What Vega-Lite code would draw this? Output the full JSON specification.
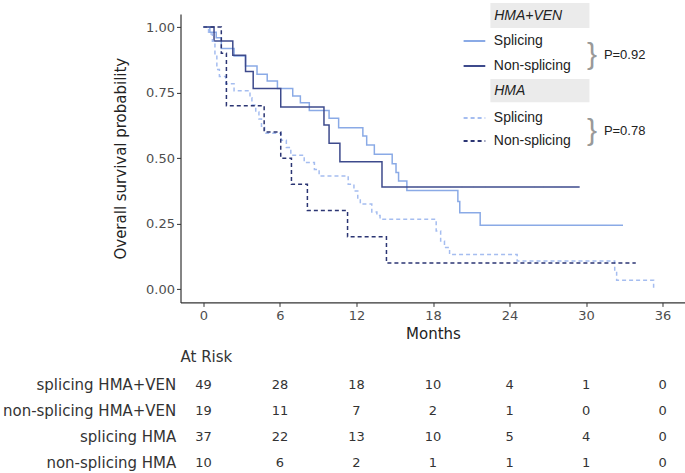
{
  "$schema": "https://vega.github.io/schema/vega-lite/v6.json",
  "autosize": {"type": "pad"},
  "padding": {"left": 1.5, "top": 1.9, "right": 0, "bottom": 0},
  "background": "white",
  "config": {"view": {"stroke": null}, "font": "DejaVu Sans"},
  "bounds": "flush",
  "spacing": 69,
  "datasets": {
    "km": [
      {"series": "Splicing HMA+VEN", "t": 0, "s": 1},
      {"series": "Splicing HMA+VEN", "t": 0.5, "s": 0.98},
      {"series": "Splicing HMA+VEN", "t": 1.0, "s": 0.959},
      {"series": "Splicing HMA+VEN", "t": 1.4, "s": 0.918},
      {"series": "Splicing HMA+VEN", "t": 2.4, "s": 0.889},
      {"series": "Splicing HMA+VEN", "t": 3.3, "s": 0.851},
      {"series": "Splicing HMA+VEN", "t": 4.2, "s": 0.82},
      {"series": "Splicing HMA+VEN", "t": 5.0, "s": 0.794},
      {"series": "Splicing HMA+VEN", "t": 5.8, "s": 0.766},
      {"series": "Splicing HMA+VEN", "t": 7.0, "s": 0.737},
      {"series": "Splicing HMA+VEN", "t": 7.6, "s": 0.711},
      {"series": "Splicing HMA+VEN", "t": 8.3, "s": 0.682},
      {"series": "Splicing HMA+VEN", "t": 9.85, "s": 0.652},
      {"series": "Splicing HMA+VEN", "t": 10.6, "s": 0.616},
      {"series": "Splicing HMA+VEN", "t": 12.5, "s": 0.584},
      {"series": "Splicing HMA+VEN", "t": 12.8, "s": 0.55},
      {"series": "Splicing HMA+VEN", "t": 13.4, "s": 0.515},
      {"series": "Splicing HMA+VEN", "t": 14.8, "s": 0.479},
      {"series": "Splicing HMA+VEN", "t": 15.1, "s": 0.445},
      {"series": "Splicing HMA+VEN", "t": 15.3, "s": 0.413},
      {"series": "Splicing HMA+VEN", "t": 15.95, "s": 0.377},
      {"series": "Splicing HMA+VEN", "t": 19.95, "s": 0.335},
      {"series": "Splicing HMA+VEN", "t": 20.1, "s": 0.292},
      {"series": "Splicing HMA+VEN", "t": 21.7, "s": 0.244},
      {"series": "Splicing HMA+VEN", "t": 32.9, "s": 0.244},
      {"series": "Non-splicing HMA+VEN", "t": 0, "s": 1},
      {"series": "Non-splicing HMA+VEN", "t": 0.83, "s": 0.947},
      {"series": "Non-splicing HMA+VEN", "t": 2.3, "s": 0.892},
      {"series": "Non-splicing HMA+VEN", "t": 3.3, "s": 0.83},
      {"series": "Non-splicing HMA+VEN", "t": 3.9, "s": 0.766},
      {"series": "Non-splicing HMA+VEN", "t": 6.06, "s": 0.695},
      {"series": "Non-splicing HMA+VEN", "t": 9.45, "s": 0.626},
      {"series": "Non-splicing HMA+VEN", "t": 9.85, "s": 0.557},
      {"series": "Non-splicing HMA+VEN", "t": 10.7, "s": 0.486},
      {"series": "Non-splicing HMA+VEN", "t": 14.0, "s": 0.39},
      {"series": "Non-splicing HMA+VEN", "t": 29.5, "s": 0.39},
      {"series": "Splicing HMA", "t": 0, "s": 1},
      {"series": "Splicing HMA", "t": 0.4, "s": 0.973},
      {"series": "Splicing HMA", "t": 0.7, "s": 0.946},
      {"series": "Splicing HMA", "t": 0.9, "s": 0.892},
      {"series": "Splicing HMA", "t": 1.05, "s": 0.838},
      {"series": "Splicing HMA", "t": 1.25, "s": 0.811},
      {"series": "Splicing HMA", "t": 1.75, "s": 0.784},
      {"series": "Splicing HMA", "t": 2.4, "s": 0.757},
      {"series": "Splicing HMA", "t": 3.65, "s": 0.73},
      {"series": "Splicing HMA", "t": 3.8, "s": 0.703},
      {"series": "Splicing HMA", "t": 4.1, "s": 0.676},
      {"series": "Splicing HMA", "t": 4.35, "s": 0.649},
      {"series": "Splicing HMA", "t": 4.55, "s": 0.622},
      {"series": "Splicing HMA", "t": 4.8, "s": 0.595},
      {"series": "Splicing HMA", "t": 6.1, "s": 0.568},
      {"series": "Splicing HMA", "t": 6.5, "s": 0.541},
      {"series": "Splicing HMA", "t": 6.85, "s": 0.511},
      {"series": "Splicing HMA", "t": 7.9, "s": 0.483},
      {"series": "Splicing HMA", "t": 8.7, "s": 0.457},
      {"series": "Splicing HMA", "t": 9.07, "s": 0.432},
      {"series": "Splicing HMA", "t": 11.35, "s": 0.4},
      {"series": "Splicing HMA", "t": 11.8, "s": 0.375},
      {"series": "Splicing HMA", "t": 12.1, "s": 0.345},
      {"series": "Splicing HMA", "t": 12.3, "s": 0.325},
      {"series": "Splicing HMA", "t": 13.2, "s": 0.295},
      {"series": "Splicing HMA", "t": 13.6, "s": 0.281},
      {"series": "Splicing HMA", "t": 13.85, "s": 0.267},
      {"series": "Splicing HMA", "t": 18.25, "s": 0.222},
      {"series": "Splicing HMA", "t": 18.6, "s": 0.184},
      {"series": "Splicing HMA", "t": 18.9, "s": 0.159},
      {"series": "Splicing HMA", "t": 19.3, "s": 0.133},
      {"series": "Splicing HMA", "t": 24.6, "s": 0.108},
      {"series": "Splicing HMA", "t": 32.25, "s": 0.07},
      {"series": "Splicing HMA", "t": 32.4, "s": 0.034},
      {"series": "Splicing HMA", "t": 35.3, "s": 0},
      {"series": "Non-splicing HMA", "t": 0, "s": 1},
      {"series": "Non-splicing HMA", "t": 1.4, "s": 0.9},
      {"series": "Non-splicing HMA", "t": 1.8, "s": 0.7},
      {"series": "Non-splicing HMA", "t": 4.76, "s": 0.6},
      {"series": "Non-splicing HMA", "t": 6.06, "s": 0.5},
      {"series": "Non-splicing HMA", "t": 6.9, "s": 0.4},
      {"series": "Non-splicing HMA", "t": 8.15, "s": 0.3},
      {"series": "Non-splicing HMA", "t": 11.3, "s": 0.2},
      {"series": "Non-splicing HMA", "t": 14.35, "s": 0.1},
      {"series": "Non-splicing HMA", "t": 33.9, "s": 0.1}
    ],
    "risk": [
      {"group": "splicing HMA+VEN", "time": 0, "n": 49},
      {"group": "splicing HMA+VEN", "time": 6, "n": 28},
      {"group": "splicing HMA+VEN", "time": 12, "n": 18},
      {"group": "splicing HMA+VEN", "time": 18, "n": 10},
      {"group": "splicing HMA+VEN", "time": 24, "n": 4},
      {"group": "splicing HMA+VEN", "time": 30, "n": 1},
      {"group": "splicing HMA+VEN", "time": 36, "n": 0},
      {"group": "non-splicing HMA+VEN", "time": 0, "n": 19},
      {"group": "non-splicing HMA+VEN", "time": 6, "n": 11},
      {"group": "non-splicing HMA+VEN", "time": 12, "n": 7},
      {"group": "non-splicing HMA+VEN", "time": 18, "n": 2},
      {"group": "non-splicing HMA+VEN", "time": 24, "n": 1},
      {"group": "non-splicing HMA+VEN", "time": 30, "n": 0},
      {"group": "non-splicing HMA+VEN", "time": 36, "n": 0},
      {"group": "splicing HMA", "time": 0, "n": 37},
      {"group": "splicing HMA", "time": 6, "n": 22},
      {"group": "splicing HMA", "time": 12, "n": 13},
      {"group": "splicing HMA", "time": 18, "n": 10},
      {"group": "splicing HMA", "time": 24, "n": 5},
      {"group": "splicing HMA", "time": 30, "n": 4},
      {"group": "splicing HMA", "time": 36, "n": 0},
      {"group": "non-splicing HMA", "time": 0, "n": 10},
      {"group": "non-splicing HMA", "time": 6, "n": 6},
      {"group": "non-splicing HMA", "time": 12, "n": 2},
      {"group": "non-splicing HMA", "time": 18, "n": 1},
      {"group": "non-splicing HMA", "time": 24, "n": 1},
      {"group": "non-splicing HMA", "time": 30, "n": 1},
      {"group": "non-splicing HMA", "time": 36, "n": 0}
    ]
  },
  "vconcat": [
    {
      "width": 505,
      "height": 288.5,
      "layer": [
        {
          "data": {"name": "km"},
          "mark": {"type": "line", "interpolate": "step-after", "strokeWidth": 1.5},
          "encoding": {
            "x": {
              "field": "t", "type": "quantitative",
              "scale": {"domain": [-1.8, 37.8], "nice": false, "zero": false},
              "axis": {
                "values": [0, 6, 12, 18, 24, 30, 36], "title": "Months", "grid": false,
                "domainColor": "#333333", "domainWidth": 1.2, "tickColor": "#333333", "tickSize": 4,
                "labelFont": "DejaVu Sans", "labelFontSize": 13, "labelColor": "#4d4d4d", "labelPadding": 3,
                "titleFont": "DejaVu Sans", "titleFontSize": 15, "titleFontWeight": "normal", "titleColor": "#222222", "titlePadding": 4
              }
            },
            "y": {
              "field": "s", "type": "quantitative",
              "scale": {"domain": [-0.05, 1.05], "nice": false, "zero": false},
              "axis": {
                "values": [0, 0.25, 0.5, 0.75, 1], "format": ".2f", "title": "Overall survival probability", "grid": false,
                "domainColor": "#333333", "domainWidth": 1.2, "tickColor": "#333333", "tickSize": 4,
                "labelFont": "DejaVu Sans", "labelFontSize": 13, "labelColor": "#4d4d4d", "labelPadding": 2,
                "titleFont": "DejaVu Sans", "titleFontSize": 15, "titleFontWeight": "normal", "titleColor": "#222222", "titlePadding": 17
              }
            },
            "color": {
              "field": "series", "type": "nominal", "legend": null,
              "scale": {
                "domain": ["Splicing HMA+VEN", "Non-splicing HMA+VEN", "Splicing HMA", "Non-splicing HMA"],
                "range": ["#8aaae6", "#3d4a8c", "#a5bdf0", "#2b3573"]
              }
            },
            "strokeDash": {
              "field": "series", "type": "nominal", "legend": null,
              "scale": {
                "domain": ["Splicing HMA+VEN", "Non-splicing HMA+VEN", "Splicing HMA", "Non-splicing HMA"],
                "range": [[1, 0], [1, 0], [4, 3], [4, 3]]
              }
            }
          }
        },
        {
          "data": {"values": [{}]},
          "mark": {"type": "rect", "color": "#ebebeb"},
          "encoding": {"x": {"datum": 22.5}, "x2": {"datum": 30.27}, "y": {"datum": 1.092}, "y2": {"datum": 0.996}}
        },
        {
          "data": {"values": [{}]},
          "mark": {"type": "rect", "color": "#ebebeb"},
          "encoding": {"x": {"datum": 22.5}, "x2": {"datum": 30.27}, "y": {"datum": 0.802}, "y2": {"datum": 0.713}}
        },
        {
          "data": {"values": [{}]},
          "mark": {"type": "text", "align": "left", "baseline": "middle", "font": "Liberation Sans", "fontSize": 14, "fontStyle": "italic", "color": "#222222"},
          "encoding": {"x": {"datum": 22.8}, "y": {"datum": 1.043}, "text": {"value": "HMA+VEN"}}
        },
        {
          "data": {"values": [{}]},
          "mark": {"type": "text", "align": "left", "baseline": "middle", "font": "Liberation Sans", "fontSize": 14, "fontStyle": "italic", "color": "#222222"},
          "encoding": {"x": {"datum": 22.8}, "y": {"datum": 0.756}, "text": {"value": "HMA"}}
        },
        {
          "data": {"values": [{}]},
          "mark": {"type": "rule", "strokeWidth": 2},
          "encoding": {"x": {"datum": 20.4}, "x2": {"datum": 22.1}, "y": {"datum": 0.947}, "color": {"datum": "Splicing HMA+VEN"}, "strokeDash": {"datum": "Splicing HMA+VEN"}}
        },
        {
          "data": {"values": [{}]},
          "mark": {"type": "rule", "strokeWidth": 2},
          "encoding": {"x": {"datum": 20.4}, "x2": {"datum": 22.1}, "y": {"datum": 0.851}, "color": {"datum": "Non-splicing HMA+VEN"}, "strokeDash": {"datum": "Non-splicing HMA+VEN"}}
        },
        {
          "data": {"values": [{}]},
          "mark": {"type": "rule", "strokeWidth": 2},
          "encoding": {"x": {"datum": 20.4}, "x2": {"datum": 22.1}, "y": {"datum": 0.653}, "color": {"datum": "Splicing HMA"}, "strokeDash": {"datum": "Splicing HMA"}}
        },
        {
          "data": {"values": [{}]},
          "mark": {"type": "rule", "strokeWidth": 2},
          "encoding": {"x": {"datum": 20.4}, "x2": {"datum": 22.1}, "y": {"datum": 0.565}, "color": {"datum": "Non-splicing HMA"}, "strokeDash": {"datum": "Non-splicing HMA"}}
        },
        {
          "data": {"values": [{}]},
          "mark": {"type": "text", "align": "left", "baseline": "middle", "font": "Liberation Sans", "fontSize": 14, "color": "#222222"},
          "encoding": {"x": {"datum": 22.77}, "y": {"datum": 0.947}, "text": {"value": "Splicing"}}
        },
        {
          "data": {"values": [{}]},
          "mark": {"type": "text", "align": "left", "baseline": "middle", "font": "Liberation Sans", "fontSize": 14, "color": "#222222"},
          "encoding": {"x": {"datum": 22.77}, "y": {"datum": 0.851}, "text": {"value": "Non-splicing"}}
        },
        {
          "data": {"values": [{}]},
          "mark": {"type": "text", "align": "left", "baseline": "middle", "font": "Liberation Sans", "fontSize": 14, "color": "#222222"},
          "encoding": {"x": {"datum": 22.77}, "y": {"datum": 0.653}, "text": {"value": "Splicing"}}
        },
        {
          "data": {"values": [{}]},
          "mark": {"type": "text", "align": "left", "baseline": "middle", "font": "Liberation Sans", "fontSize": 14, "color": "#222222"},
          "encoding": {"x": {"datum": 22.77}, "y": {"datum": 0.565}, "text": {"value": "Non-splicing"}}
        },
        {
          "data": {"values": [{}]},
          "mark": {"type": "text", "align": "center", "baseline": "middle", "font": "Liberation Sans", "fontSize": 30, "color": "#999999"},
          "encoding": {"x": {"datum": 30.46}, "y": {"datum": 0.895}, "text": {"value": "}"}}
        },
        {
          "data": {"values": [{}]},
          "mark": {"type": "text", "align": "center", "baseline": "middle", "font": "Liberation Sans", "fontSize": 30, "color": "#999999"},
          "encoding": {"x": {"datum": 30.46}, "y": {"datum": 0.605}, "text": {"value": "}"}}
        },
        {
          "data": {"values": [{}]},
          "mark": {"type": "text", "align": "left", "baseline": "middle", "font": "Liberation Sans", "fontSize": 13, "color": "#222222"},
          "encoding": {"x": {"datum": 31.4}, "y": {"datum": 0.893}, "text": {"value": "P=0.92"}}
        },
        {
          "data": {"values": [{}]},
          "mark": {"type": "text", "align": "left", "baseline": "middle", "font": "Liberation Sans", "fontSize": 13, "color": "#222222"},
          "encoding": {"x": {"datum": 31.4}, "y": {"datum": 0.603}, "text": {"value": "P=0.78"}}
        }
      ]
    },
    {
      "width": 505,
      "height": 104,
      "data": {"name": "risk"},
      "title": {"text": "At Risk", "anchor": "start", "frame": "group", "baseline": "bottom", "font": "DejaVu Sans", "fontSize": 15, "fontWeight": "normal", "color": "#333333", "offset": -8},
      "mark": {"type": "text", "font": "DejaVu Sans", "fontSize": 13, "color": "#333333"},
      "encoding": {
        "x": {"field": "time", "type": "quantitative", "scale": {"domain": [-1.8, 37.8], "nice": false, "zero": false}, "axis": null},
        "y": {
          "field": "group", "type": "nominal",
          "sort": ["splicing HMA+VEN", "non-splicing HMA+VEN", "splicing HMA", "non-splicing HMA"],
          "scale": {"type": "point", "padding": 0.5},
          "axis": {"title": null, "domain": false, "ticks": false, "labelFont": "DejaVu Sans", "labelFontSize": 15, "labelColor": "#333333", "labelPadding": 4.7}
        },
        "text": {"field": "n", "type": "quantitative"}
      }
    }
  ]
}
